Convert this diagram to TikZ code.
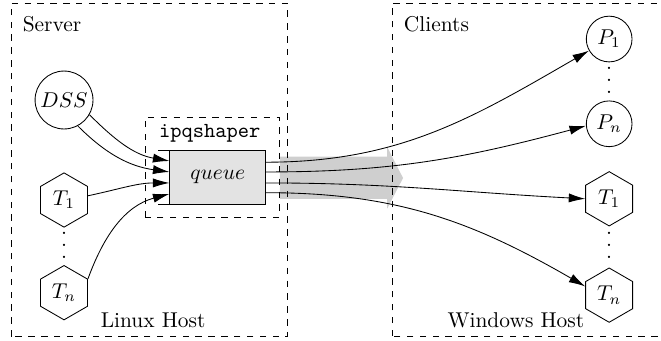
\documentclass[tikz,border=0pt]{standalone}
\usetikzlibrary{shapes.geometric, arrows.meta, positioning, calc}
\newcommand{\sparsevdots}{\vbox{\baselineskip=5.6pt \lineskiplimit=0pt
    \hbox{.}\hbox{.}\hbox{.}}}

\begin{document}
\begin{tikzpicture}[
    host/.style={draw, dashed},
    proc/.style={draw, circle, inner sep=0pt},
    task/.style={draw, regular polygon, regular polygon sides=6,
        shape border rotate=30, minimum size=0.89cm, inner sep=0pt},
    dots/.style={inner sep=0pt},
    link/.style={-{Latex[length=2.7mm, width=1.5mm]}},
]
    \useasboundingbox (0,0) rectangle (10.84,5.59);

    % Traffic towards the clients
    \fill[black!19] (4.59,2.33) -- (6.35,2.33) -- (6.35,2.17) -- (6.61,2.67)
        -- (6.35,3.18) -- (6.35,3.02) -- (4.59,3.02) -- cycle;

    % Hosts
    \draw[host] (0.18,0.07) rectangle (4.71,5.54);
    \draw[host] (6.43,0.08) rectangle (10.95,5.54);
    \node[anchor=west] (srv) at (0.25,5.20) {Server};
    \node[anchor=west] (cli) at (6.50,5.20) {Clients};
    \node (lin) at (2.51,0.34) {Linux Host};
    \node (win) at (8.46,0.34) {Windows Host};

    % Shaper with its queue
    \draw[host] (2.38,2.03) rectangle (4.58,3.67);
    \node (shp) at (3.44,3.41) {\texttt{ipqshaper}};
    \node[draw, fill=black!11, minimum width=1.57cm, minimum height=0.87cm] (queue) at (3.57,2.68) {$queue$};
    \draw (queue.north west) -- ++(-0.18,0);
    \draw (queue.south west) -- ++(-0.18,0);

    % Server side sources
    \node[proc, minimum size=0.95cm] (dss) at (1.05,3.95) {$DSS$};
    \node[task] (t1) at (1.05,2.31) {$T_1$};
    \node[dots] (tdots) at (1.05,1.57) {\sparsevdots};
    \node[task] (tn) at (1.05,0.79) {$T_n$};

    % Client side sinks
    \node[proc, minimum size=0.75cm] (p1) at (9.99,4.95) {$P_1$};
    \node[dots] (pdots) at (9.99,4.28) {\sparsevdots};
    \node[proc, minimum size=0.75cm] (pn) at (9.99,3.56) {$P_n$};
    \node[task] (ct1) at (9.99,2.33) {$T_1$};
    \node[dots] (ctdots) at (9.99,1.57) {\sparsevdots};
    \node[task] (ctn) at (9.99,0.75) {$T_n$};

    % Into the queue
    \draw[link] (dss.-30) to[out=-45, in=170] ($(queue.west)+(0,0.27)$);
    \draw[link] (dss.-62) to[out=-45, in=172] ($(queue.west)+(0,0.09)$);
    \draw[link] (t1.10) to[out=12, in=180] ($(queue.west)+(0,-0.09)$);
    \draw[link] (tn.30) to[out=70, in=195] ($(queue.west)+(0,-0.27)$);

    % Out of the queue
    \draw[link] ($(queue.east)+(0,0.25)$) to[out=0, in=210] (p1.210);
    \draw[link] ($(queue.east)+(0,0.09)$) to[out=0, in=195] (pn.185);
    \draw[link] ($(queue.east)+(0,-0.09)$) to[out=0, in=177] (ct1.west);
    \draw[link] ($(queue.east)+(0,-0.25)$) to[out=0, in=150] (ctn.160);
\end{tikzpicture}
\end{document}
